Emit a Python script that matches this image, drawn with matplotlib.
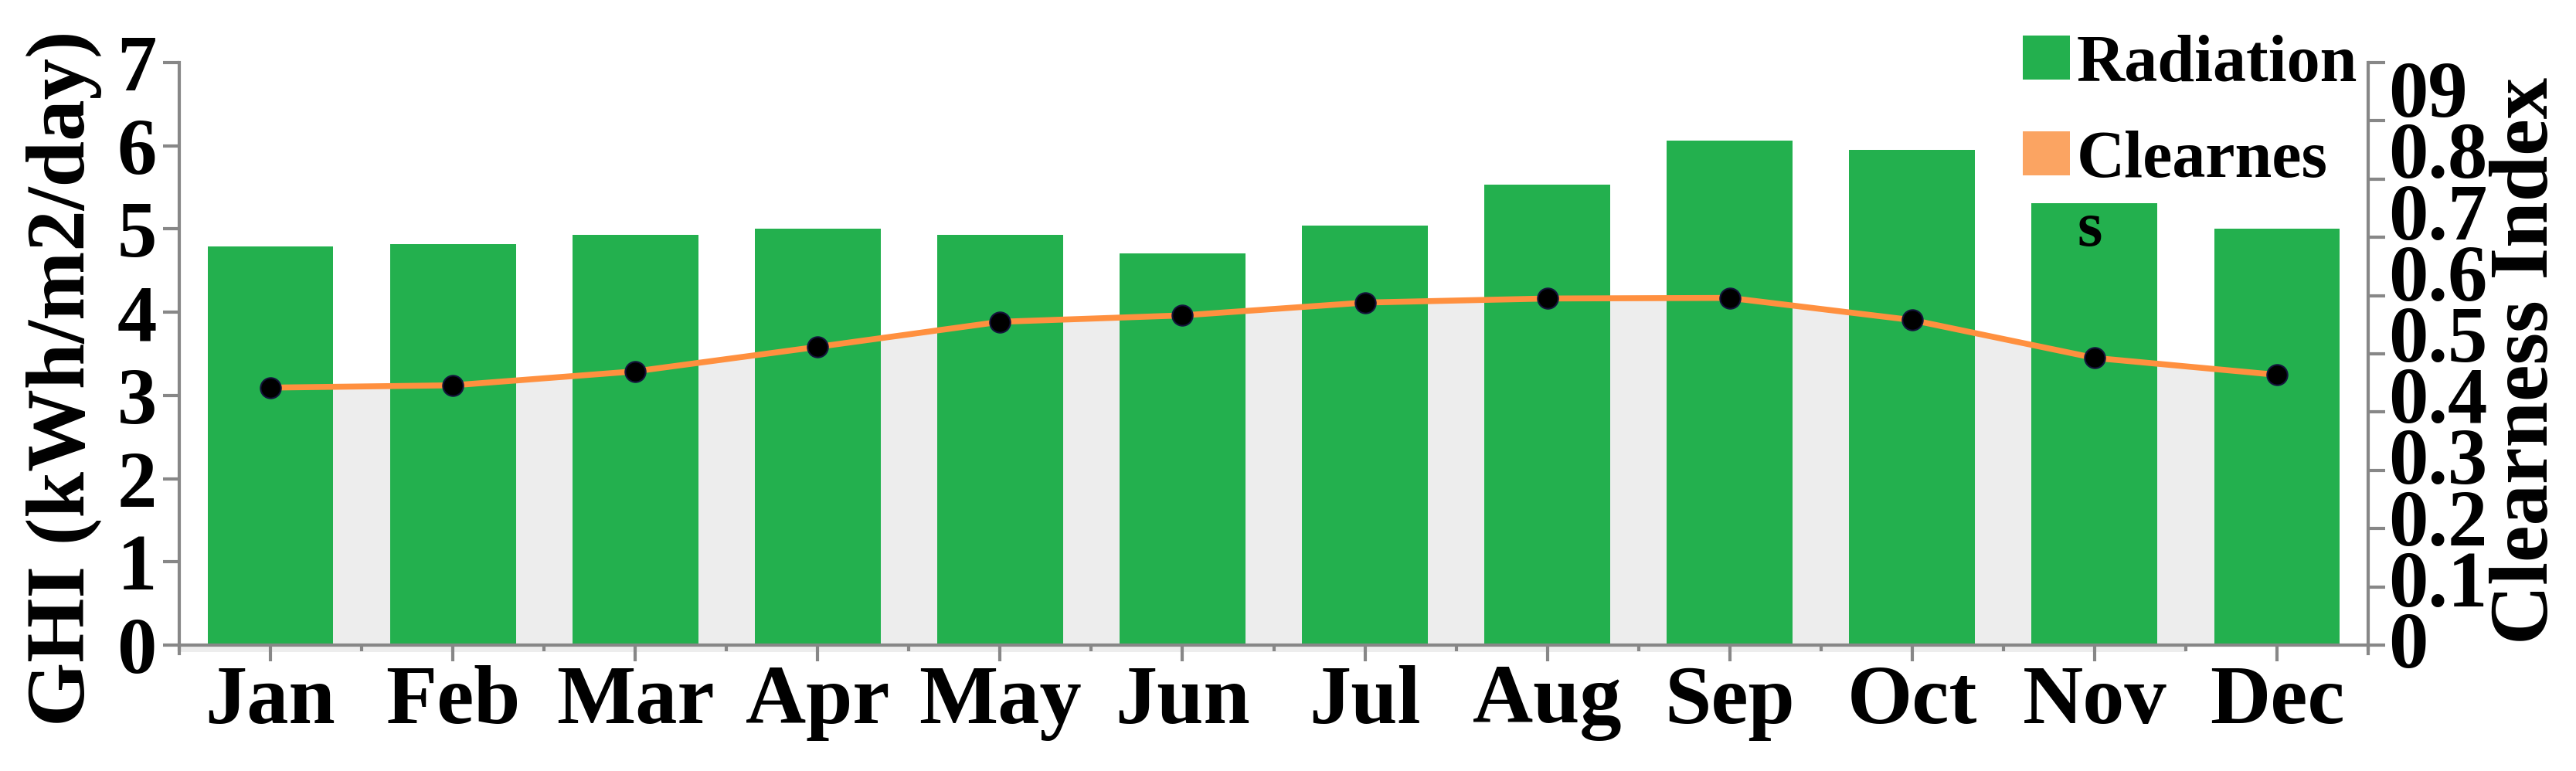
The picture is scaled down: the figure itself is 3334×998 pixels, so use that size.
import matplotlib
matplotlib.use('Agg')
import matplotlib.pyplot as plt
from matplotlib.patches import Patch
from matplotlib.ticker import FixedLocator, FixedFormatter, NullFormatter
from matplotlib.font_manager import FontProperties
import numpy as np

# ---------------- data ----------------
months = ['Jan', 'Feb', 'Mar', 'Apr', 'May', 'Jun', 'Jul', 'Aug', 'Sep', 'Oct', 'Nov', 'Dec']
radiation = [4.79, 4.82, 4.93, 5.00, 4.93, 4.71, 5.04, 5.53, 6.06, 5.95, 5.31, 5.00]
clearness = [0.442, 0.446, 0.470, 0.512, 0.555, 0.566, 0.588, 0.595, 0.596, 0.558, 0.493, 0.464]
left_ticks = [0, 1, 2, 3, 4, 5, 6, 7]
right_ticks = [0.0, 0.1, 0.2, 0.3, 0.4, 0.5, 0.6, 0.7, 0.8, 0.9, 1.0]
right_tick_labels = ['0', '0.1', '0.2', '0.3', '0.4', '0.5', '0.6', '0.7', '0.8', '09']
legend_labels = ['Radiation', 'Clearnes']
legend_overflow = 's'
left_label = 'GHI (kWh/m2/day)'
right_label = 'Clearness Index'

# ---------------- style ----------------
GREEN = '#23B04E'
ORANGE_LINE = '#FF903F'
ORANGE_LEG = '#FBA462'
GREY_FILL = '#EDEDED'
SPINE = '#878787'

plt.rcParams['font.family'] = ['Liberation Serif', 'DejaVu Serif']
plt.rcParams['font.weight'] = 'bold'

W, H = 3334, 998
fig = plt.figure(figsize=(W / 100, H / 100), dpi=100)
ax = fig.add_axes([232 / W, 1 - 845.8 / H, (3065 - 232) / W, (845.8 - 81) / H])
ax2 = ax.twinx()

x = np.arange(len(months))
ybot = -0.1
ax.set_xlim(-0.5, len(months) - 0.5)
ax.set_ylim(ybot, 7)
ax2.set_ylim(ybot / 7 * 1.0, 1.0)

# grey band below axis and area under clearness line
ax.fill_between([-0.5, len(months) - 1.5], -0.08, 0, color=GREY_FILL, lw=0, zorder=1)
ax.fill_between(x, np.zeros(len(x)), clearness, transform=ax2.transData,
                color=GREY_FILL, lw=0, zorder=1)
ax.bar(x, radiation, width=0.69, color=GREEN, zorder=2, edgecolor='none')

ax2.plot(x, clearness, color=ORANGE_LINE, lw=5.5, marker='o', ms=19,
         mfc='black', mec='#14143c', mew=1.5, zorder=3)

# spines
for sp in ['top', 'right']:
    ax.spines[sp].set_visible(False)
for sp in ['top', 'left', 'bottom']:
    ax2.spines[sp].set_visible(False)
ax.spines['bottom'].set_position(('data', 0))
for s in [ax.spines['left'], ax.spines['bottom'], ax2.spines['right']]:
    s.set_color(SPINE)
    s.set_linewidth(3)

# x ticks
ax.set_xticks(np.arange(-0.5, len(months), 1.0))
ax.xaxis.set_major_formatter(NullFormatter())
ax.set_xticks(x, minor=True)
ax.set_xticklabels(months, minor=True)
ax.tick_params(axis='x', which='major', length=6, width=3, color=SPINE, direction='out')
ax.tick_params(axis='x', which='minor', length=15, width=3, color=SPINE, direction='out',
               pad=4, labelsize=78)

# left y ticks
ax.set_yticks(left_ticks)
ax.set_yticklabels([str(t) for t in left_ticks])
ax.tick_params(axis='y', which='major', length=15, width=3, color=SPINE, direction='out',
               pad=6, labelsize=74)

# right y ticks (labels spread independently from tick marks)
ax2.set_yticks(right_ticks)
ax2.yaxis.set_major_formatter(NullFormatter())
label_pos = [(835 - (828 - 79.2 * k)) / 754 for k in range(len(right_tick_labels))]
ax2.yaxis.set_minor_locator(FixedLocator(label_pos))
ax2.yaxis.set_minor_formatter(FixedFormatter(right_tick_labels))
ax2.tick_params(axis='y', which='major', length=16, width=3, color=SPINE, direction='out')
ax2.tick_params(axis='y', which='minor', length=0, pad=19, labelsize=74)

# axis titles
fig.text(83 / W, 1 - 490 / H, left_label, rotation=90, ha='center', va='center',
         fontsize=77, fontweight='bold')
fig.text(3271 / W, 1 - 467 / H, right_label, rotation=90, ha='center', va='center',
         fontsize=77, fontweight='bold')

# legend
handles = [Patch(facecolor=GREEN, edgecolor='none'), Patch(facecolor=ORANGE_LEG, edgecolor='none')]
fig.legend(handles=handles, labels=legend_labels, loc='upper left',
           bbox_to_anchor=(2618 / W, 1 - 45 / H), frameon=False, borderpad=0,
           borderaxespad=0, handlelength=0.71, handleheight=0.64, handletextpad=0.1,
           labelspacing=0.52, prop=FontProperties(family='Liberation Serif', weight='bold', size=62))
fig.text(2705 / W, 1 - 318 / H, legend_overflow, ha='center', va='baseline',
         fontsize=60, fontweight='bold')

fig.savefig('out.png', dpi=100)
